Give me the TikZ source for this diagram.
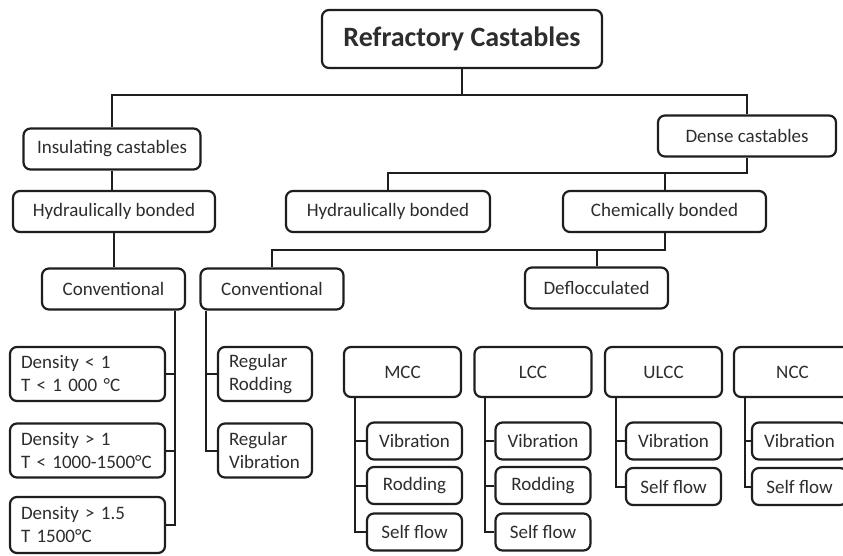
\documentclass[tikz,border=0pt]{standalone}
\usepackage{fontspec}
\setmainfont{Carlito}
\definecolor{ink}{RGB}{30,30,30}
\definecolor{label}{RGB}{45,45,45}
\tikzset{
  cell/.style={rectangle,rounded corners=7pt,draw=ink,line width=2.2pt,
               fill=white,text=label,inner sep=0pt,
               font=\fontsize{19}{23}\selectfont},
  box/.style={cell,minimum width=#1,minimum height=41pt,align=center},
  box/.default=143pt,
  note/.style={cell,text width=#1,align=left,inner xsep=11pt,
               minimum height=54pt},
  grp/.style={box=117pt,minimum height=50pt},
  sub/.style={box=95pt,minimum height=37pt},
  link/.style={draw=ink,line width=2pt},
}
\begin{document}
\begin{tikzpicture}[x=1pt,y=-1pt]
  \path[use as bounding box] (0,0) rectangle (843,556);
  \clip (0,0) rectangle (843,556);

  \node[box=280pt,minimum height=58pt,
        font=\fontsize{28}{32}\selectfont\bfseries] (root) at (462,39)
        {Refractory Castables};

  \node[box=177pt] (ins)   at (112,149)   {Insulating castables};
  \node[box=178pt] (dense) at (747,136)   {Dense castables};
  \node[box=202pt] (hydL)  at (114,211.5) {Hydraulically bonded};
  \node[box=204pt] (hydM)  at (388,211.5) {Hydraulically bonded};
  \node[box=203pt] (chem)  at (664.5,211.5) {Chemically bonded};
  \node[box] (convL) at (113.5,289) {Conventional};
  \node[box] (convM) at (272,289)   {Conventional};
  \node[box] (defl)  at (596.5,288) {Deflocculated};

  % insulating grades
  \node[note=133pt] (dens1) at (87.5,374)   {Density < 1\\T < 1 000 °C};
  \node[note=133pt] (dens2) at (87.5,450.5) {Density > 1\\T < 1000-1500°C};
  \node[note=133pt,minimum height=56pt] (dens3) at (87.5,525)
        {Density > 1.5\\T 1500°C};

  \node[note=72pt] (regR) at (265,374)   {Regular\\Rodding};
  \node[note=72pt] (regV) at (265,450.5) {Regular\\Vibration};

  % deflocculated families and their placing methods
  \foreach \g/\cx/\sx in {MCC/402.5/414.5,LCC/533/543,ULCC/663.5/673.5,NCC/792.5/799.5}{
    \node[grp] (\g) at (\cx,372) {\g};
    \node[sub] (\g-v) at (\sx,441) {Vibration};
  }
  \foreach \g/\sx in {MCC/414.5,LCC/543}{
    \node[sub] (\g-r) at (\sx,485.5) {Rodding};
    \node[sub] (\g-s) at (\sx,532) {Self flow};
  }
  \foreach \g/\sx in {ULCC/673.5,NCC/799.5}
    \node[sub] (\g-s) at (\sx,486.5) {Self flow};

  % tree lines
  \coordinate (topbus) at (0,95);
  \coordinate (midbus) at (0,173);
  \coordinate (lowbus) at (0,250);
  \draw[link] (root.south) -- (root.south |- topbus);
  \draw[link] (ins.north) |- (dense.north |- topbus) -- (dense.north);
  \draw[link] (ins.south) -- (ins.south |- hydL.north);
  \draw[link] (hydL.south) -- (hydL.south |- convL.north);
  \draw[link] (hydM.north) |- (dense.south |- midbus) -- (dense.south);
  \draw[link] (chem.north) -- (chem.north |- midbus);
  \draw[link] (chem.south) -- (chem.south |- lowbus) -| (convM.north);
  \draw[link] (defl.north) -- (defl.north |- lowbus);

  \draw[link] ([xshift=-11pt]convL.south east) coordinate (sL) |- (dens3.east);
  \foreach \n in {dens1,dens2}
    \draw[link] (\n.east) -- (\n.east -| sL);
  \draw[link] ([xshift=7pt]convM.south west) coordinate (sM) |- (regV.west);
  \draw[link] (regR.west) -- (regR.west -| sM);

  \foreach \g in {MCC,LCC,ULCC,NCC}
    \draw[link] ([xshift=12pt]\g.south west) coordinate (s\g) |- (\g-s.west)
      (\g-v.west) -- (\g-v.west -| s\g);
  \foreach \g in {MCC,LCC}
    \draw[link] (\g-r.west) -- (\g-r.west -| s\g);
\end{tikzpicture}
\end{document}
